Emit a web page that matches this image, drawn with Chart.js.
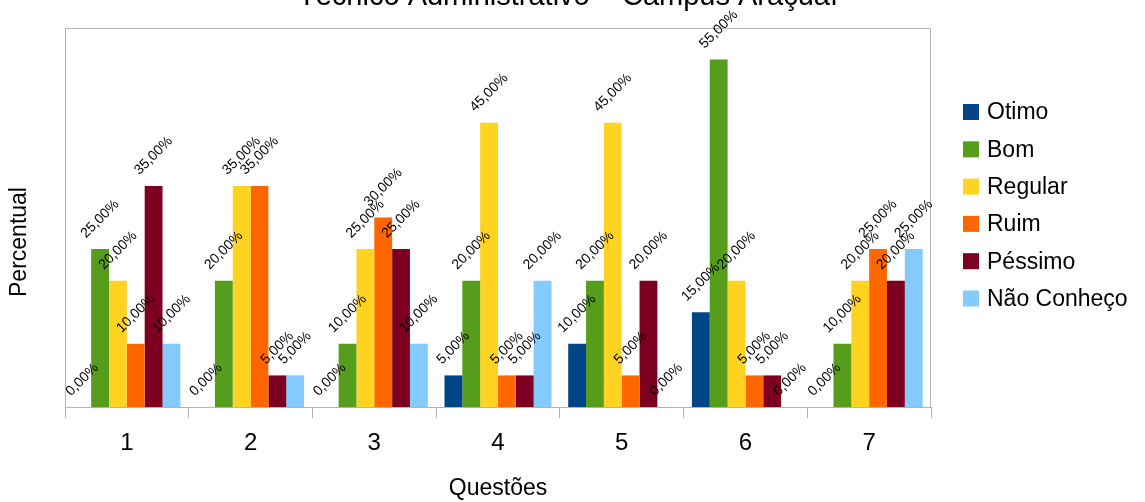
<!DOCTYPE html>
<html lang="pt">
<head>
  <meta charset="UTF-8" />
  <title>Técnico Administrativo – Campus Araçuaí</title>
  <script src="https://cdn.jsdelivr.net/npm/chart.js"></script>
  <style>
    html, body { margin: 0; padding: 0; background: #fff; }
    canvas { display: block; }
  </style>
</head>
<body>
  <canvas id="chart" width="1145" height="502"></canvas>

  <script>
    // Data (percent of answers per question)
    const questions = ['1', '2', '3', '4', '5', '6', '7'];
    const seriesNames = ['Otimo', 'Bom', 'Regular', 'Ruim', 'Péssimo', 'Não Conheço'];
    const seriesColors = ['#004586', '#579d1c', '#ffd320', '#ff6600', '#7e0021', '#83caff'];

    const otimo      = [0, 0, 0, 5, 10, 15, 0];
    const bom        = [25, 20, 10, 20, 20, 55, 10];
    const regular    = [20, 35, 25, 45, 45, 20, 20];
    const ruim       = [10, 35, 30, 5, 5, 5, 25];
    const pessimo    = [35, 5, 25, 5, 20, 5, 20];
    const naoConheco = [10, 5, 10, 20, 0, 0, 25];

    const seriesValues = [otimo, bom, regular, ruim, pessimo, naoConheco];

    const chartTitle = 'Técnico Administrativo – Campus Araçuaí';
    const yTitle = 'Percentual';
    const xTitle = 'Questões';

    const FONT = '"Liberation Sans", Arial, sans-serif';
    const frameColor = '#b3b3b3';

    const fmtPct = v => v.toFixed(2).replace('.', ',') + '%';

    // plot frame, rotated value labels, titles and legend
    const decorations = {
      id: 'decorations',
      beforeDatasetsDraw(chart) {
        const { ctx, chartArea: a } = chart;
        ctx.save();
        ctx.strokeStyle = frameColor;
        ctx.lineWidth = 1;
        ctx.beginPath();
        ctx.moveTo(a.left + 0.5, a.bottom);
        ctx.lineTo(a.left + 0.5, a.top + 0.5);
        ctx.lineTo(a.right - 0.5, a.top + 0.5);
        ctx.lineTo(a.right - 0.5, a.bottom);
        ctx.stroke();
        ctx.restore();
      },
      afterDatasetsDraw(chart) {
        const { ctx } = chart;
        ctx.save();
        ctx.font = '14px ' + FONT;
        ctx.fillStyle = '#000';
        ctx.textAlign = 'center';
        ctx.textBaseline = 'middle';
        chart.data.datasets.forEach((ds, i) => {
          chart.getDatasetMeta(i).data.forEach((bar, j) => {
            const txt = fmtPct(ds.data[j]);
            const w = ctx.measureText(txt).width;
            const half = (w + 15) * Math.SQRT1_2 / 2;
            ctx.save();
            ctx.translate(bar.x, bar.y - 8 - half);
            ctx.rotate(-Math.PI / 4);
            ctx.fillText(txt, 0, 0);
            ctx.restore();
          });
        });
        ctx.restore();
      },
      afterDraw(chart) {
        const { ctx } = chart;
        ctx.save();
        ctx.fillStyle = '#000';

        // main title (cut at the top edge like the reference)
        ctx.font = '29px ' + FONT;
        ctx.textAlign = 'center';
        ctx.textBaseline = 'alphabetic';
        ctx.fillText(chartTitle, 568, 5);

        // y axis title
        ctx.save();
        ctx.font = '23px ' + FONT;
        ctx.textAlign = 'center';
        ctx.translate(20, 242);
        ctx.rotate(-Math.PI / 2);
        ctx.textBaseline = 'middle';
        ctx.fillText(yTitle, 0, 0);
        ctx.restore();

        // legend
        ctx.font = '23px ' + FONT;
        ctx.textAlign = 'left';
        ctx.textBaseline = 'middle';
        chart.data.datasets.forEach((ds, i) => {
          const yc = 112 + i * 37.3;
          ctx.fillStyle = ds.backgroundColor;
          ctx.fillRect(963, yc - 8, 16, 16);
          ctx.fillStyle = '#000';
          ctx.fillText(ds.label, 987, yc + 1);
        });
        ctx.restore();
      }
    };

    const ctx = document.getElementById('chart').getContext('2d');
    const chart = new Chart(ctx, {
      type: 'bar',
      data: {
        labels: questions,
        datasets: seriesNames.map((name, i) => ({
          label: name,
          data: seriesValues[i],
          backgroundColor: seriesColors[i],
          borderWidth: 0,
          categoryPercentage: 0.865,
          barPercentage: 1
        }))
      },
      options: {
        responsive: false,
        animation: false,
        layout: { padding: { left: 65, top: 28, right: 214, bottom: 0 } },
        plugins: {
          legend: { display: false },
          title: { display: false },
          tooltip: { enabled: false }
        },
        scales: {
          y: { display: false, min: 0, max: 60 },
          x: {
            grid: { offset: true, drawOnChartArea: false, tickLength: 11, color: frameColor },
            border: { color: frameColor },
            ticks: { color: '#000', font: { family: FONT, size: 24 }, padding: 11 },
            title: {
              display: true,
              text: xTitle,
              color: '#000',
              font: { family: FONT, size: 23 },
              padding: { top: 0, bottom: 0 }
            },
            afterFit(scale) { scale.height = 95; }
          }
        }
      },
      plugins: [decorations]
    });
  </script>
</body>
</html>
